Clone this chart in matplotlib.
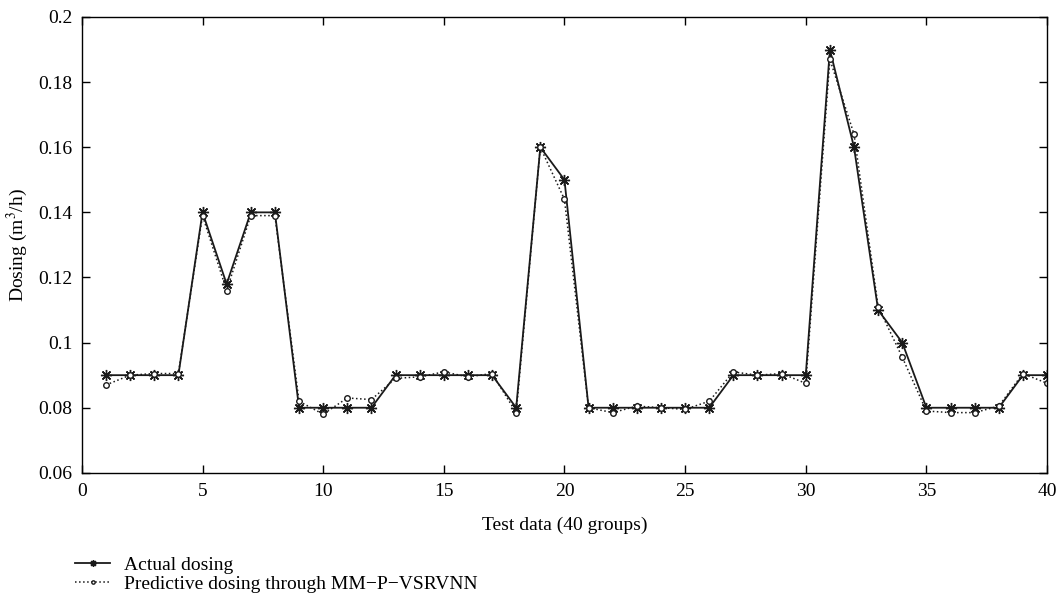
import matplotlib.pyplot as plt
from matplotlib.ticker import FuncFormatter

# dosing for the 40 test groups
groups = list(range(1, 41))
actual = [0.09, 0.09, 0.09, 0.09, 0.14, 0.118, 0.14, 0.14, 0.08, 0.08,
          0.08, 0.08, 0.09, 0.09, 0.09, 0.09, 0.09, 0.08, 0.16, 0.15,
          0.08, 0.08, 0.08, 0.08, 0.08, 0.08, 0.09, 0.09, 0.09, 0.09,
          0.19, 0.16, 0.11, 0.10, 0.08, 0.08, 0.08, 0.08, 0.09, 0.09]
predicted = [0.087, 0.09, 0.0905, 0.0905, 0.139, 0.116, 0.139, 0.139, 0.082, 0.078,
             0.083, 0.0825, 0.089, 0.0895, 0.091, 0.0895, 0.0905, 0.0785, 0.16, 0.144,
             0.08, 0.0785, 0.0805, 0.080, 0.0795, 0.082, 0.091, 0.09, 0.0905, 0.0875,
             0.187, 0.164, 0.111, 0.0955, 0.079, 0.0785, 0.0785, 0.0805, 0.0905, 0.0875]

plt.rcParams['font.family'] = ['Liberation Serif', 'DejaVu Serif']
plt.rcParams['mathtext.fontset'] = 'stix'

fig = plt.figure(figsize=(10.63, 6.07), dpi=100)
ax = fig.add_axes([0.077, 0.221, 0.908, 0.751])

ax.plot(groups, actual, '-', color='#1a1a1a', linewidth=1.3,
        marker=(8, 2, 0), markersize=8, markeredgewidth=1.0, label='Actual dosing')
ax.plot(groups, predicted, ':', color='#1a1a1a', linewidth=1.1,
        marker='o', markersize=4, markerfacecolor='white', markeredgewidth=1.0,
        label='Predictive dosing through MM\u2212P\u2212VSRVNN')

ax.set_xlim(0, 40)
ax.set_ylim(0.06, 0.2)
ax.set_xticks(range(0, 41, 5))
ax.set_yticks([0.06, 0.08, 0.1, 0.12, 0.14, 0.16, 0.18, 0.2])
ax.yaxis.set_major_formatter(FuncFormatter(lambda v, p: ('%.2f' % v).rstrip('0')))
ax.tick_params(direction='in', top=True, right=True, labelsize=14, length=6, width=1)
ax.tick_params(axis='y', pad=7)
ax.tick_params(axis='x', pad=7)
for s in ax.spines.values():
    s.set_linewidth(1.0)

ax.set_xlabel('Test data (40 groups)', fontsize=14, labelpad=12)
ax.set_ylabel('Dosing (m$^3$/h)', fontsize=14, labelpad=6)

fig.legend(loc='upper left', bbox_to_anchor=(0.0706, 0.083), frameon=False,
           fontsize=14, handlelength=1.8, numpoints=1, labelspacing=0.05,
           handletextpad=0.7, borderpad=0, borderaxespad=0, markerscale=0.6)

fig.savefig('out.png', dpi=100)
